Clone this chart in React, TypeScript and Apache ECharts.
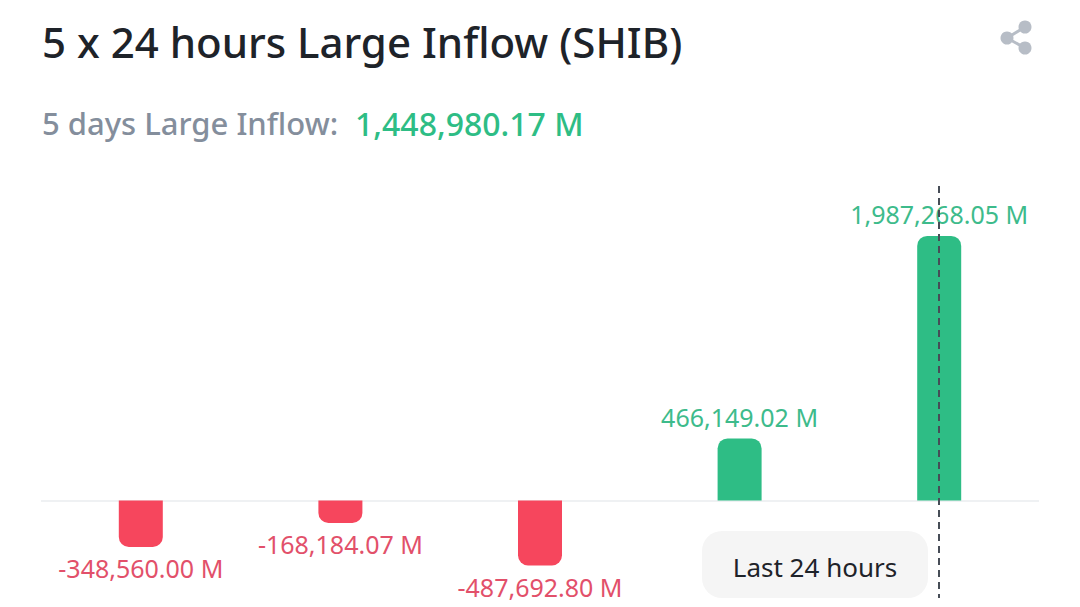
import React, { useEffect, useRef } from "react";
import * as echarts from "echarts";

const titleText = "5 x 24 hours Large Inflow (SHIB)";
const summaryLabel = "5 days Large Inflow:";
const summaryValue = "1,448,980.17 M";
const tooltipText = "Last 24 hours";
const categories = ["Day 1", "Day 2", "Day 3", "Day 4", "Last 24 hours"];
const inflowValues = [-348560.0, -168184.07, -487692.8, 466149.02, 1987268.05];

const GREEN = "#2ebd85";
const RED = "#f6465d";
const FONT = "'Noto Sans', Roboto, sans-serif";

const fmt = (v: number) =>
  v.toLocaleString("en-US", { minimumFractionDigits: 2, maximumFractionDigits: 2 }) + " M";

export default function App() {
  const ref = useRef<HTMLDivElement>(null);
  useEffect(() => {
    document.body.style.margin = "0";
    const chart = echarts.init(ref.current!, undefined, { renderer: "svg" });
    chart.setOption({
      animation: false,
      backgroundColor: "#ffffff",
      title: {
        text: titleText,
        left: 42,
        top: 20,
        padding: 0,
        textStyle: { fontFamily: FONT, fontSize: 42, fontWeight: 500, color: "#1e2329" },
      },
      grid: { left: 41, right: 41, top: 181, height: 426 },
      xAxis: {
        type: "category",
        data: categories,
        axisLine: { onZero: true, lineStyle: { color: "#eaecef", width: 1.5, cap: "butt" } },
        axisTick: { show: false },
        axisLabel: { show: false },
        splitLine: { show: false },
      },
      yAxis: {
        type: "value",
        min: -800000,
        max: 2400000,
        show: false,
        splitLine: { show: false },
      },
      series: [
        {
          type: "bar",
          barWidth: 44,
          data: inflowValues.map((v) => ({
            value: v,
            itemStyle: {
              color: v >= 0 ? GREEN : RED,
              borderRadius: v >= 0 ? [10, 10, 0, 0] : [0, 0, 10, 10],
            },
            label: {
              show: true,
              position: v >= 0 ? "top" : "bottom",
              distance: 9,
              color: v >= 0 ? "#3dbb8b" : "#e2506a",
              fontFamily: FONT,
              fontSize: 25,
              formatter: () => fmt(v),
            },
          })),
          markLine: {
            silent: true,
            symbol: "none",
            label: { show: false },
            lineStyle: { type: [7, 5], color: "#474d57", width: 2 },
            data: [
              [
                { xAxis: categories[4], yAxis: 2362000 },
                { xAxis: categories[4], yAxis: -732000 },
              ],
            ],
          },
        },
      ],
      graphic: [
        {
          type: "text",
          x: 42,
          y: 107,
          style: { text: summaryLabel, font: `500 31px ${FONT}`, fill: "#848e9c" },
        },
        {
          type: "text",
          x: 355,
          y: 107,
          style: { text: summaryValue, font: `500 32px ${FONT}`, fill: GREEN },
        },
        {
          type: "rect",
          shape: { x: 702, y: 531, width: 226, height: 67, r: 20 },
          style: { fill: "#f5f5f5" },
        },
        {
          type: "text",
          x: 815,
          y: 567,
          style: {
            text: tooltipText,
            font: `400 26px ${FONT}`,
            fill: "#1e2329",
            textAlign: "center",
            textVerticalAlign: "middle",
          },
        },
        {
          type: "group",
          children: [
            { type: "line", shape: { x1: 1025, y1: 27, x2: 1007, y2: 38 }, style: { stroke: "#b7bdc6", lineWidth: 3 } },
            { type: "line", shape: { x1: 1025, y1: 48, x2: 1007, y2: 38 }, style: { stroke: "#b7bdc6", lineWidth: 3 } },
            { type: "circle", shape: { cx: 1025, cy: 27, r: 6.5 }, style: { fill: "#b7bdc6" } },
            { type: "circle", shape: { cx: 1007, cy: 38, r: 6.5 }, style: { fill: "#b7bdc6" } },
            { type: "circle", shape: { cx: 1025, cy: 48, r: 6.5 }, style: { fill: "#b7bdc6" } },
          ],
        },
      ],
    });
    return () => chart.dispose();
  }, []);
  return <div ref={ref} style={{ width: 1080, height: 607 }} />;
}
